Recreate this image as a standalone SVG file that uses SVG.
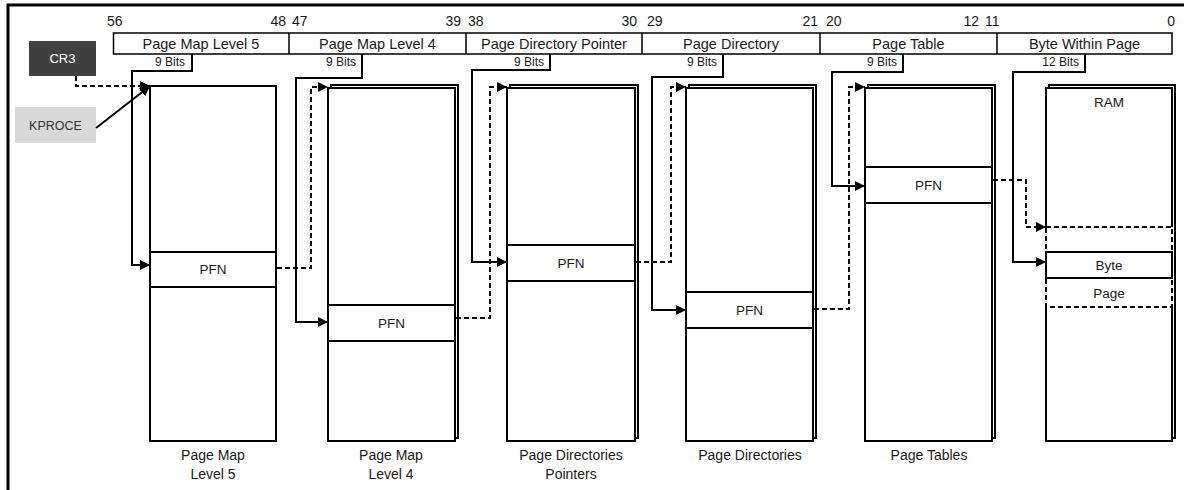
<svg xmlns="http://www.w3.org/2000/svg" width="1184" height="490" viewBox="0 0 1184 490">
<defs>
<style>
text{font-family:"Liberation Sans",Arial,sans-serif;fill:#1a1a1a}
.num{font-size:14px}
.hdr{font-size:14.5px;text-anchor:middle}
.bits{font-size:12px;text-anchor:end}
.pfn{font-size:13.5px;text-anchor:middle}
.lbl{font-size:14px;text-anchor:middle}
.box{fill:#fff;stroke:#000;stroke-width:2}
.row{stroke:#000;stroke-width:2}
.conn{fill:none;stroke:#000;stroke-width:2}
.dash{stroke-dasharray:5,3}
</style>
<marker id="ah" markerUnits="userSpaceOnUse" markerWidth="12" markerHeight="10" refX="10" refY="5" orient="auto">
<path d="M0,0 L10,5 L0,10 Z" fill="#000"/>
</marker>
</defs>
<rect width="1184" height="490" fill="#fff"/>
<path d="M8,490 V5 H1184" fill="none" stroke="#000" stroke-width="3"/>

<g id="address">
<rect x="113.5" y="33" width="1058.5" height="21" fill="#fff" stroke="#000" stroke-width="1.5"/>
<path d="M289,33V54M466,33V54M642,33V54M820,33V54M997,33V54" stroke="#000" stroke-width="1.5"/>
<text class="num" x="107" y="26">56</text>
<text class="num" x="286" y="26" text-anchor="end">48</text>
<text class="num" x="292" y="26">47</text>
<text class="num" x="461" y="26" text-anchor="end">39</text>
<text class="num" x="468" y="26">38</text>
<text class="num" x="637" y="26" text-anchor="end">30</text>
<text class="num" x="647" y="26">29</text>
<text class="num" x="818" y="26" text-anchor="end">21</text>
<text class="num" x="826" y="26">20</text>
<text class="num" x="979" y="26" text-anchor="end">12</text>
<text class="num" x="985" y="26">11</text>
<text class="num" x="1175" y="26" text-anchor="end">0</text>
<text class="hdr" x="201" y="49">Page Map Level 5</text>
<text class="hdr" x="377.5" y="49">Page Map Level 4</text>
<text class="hdr" x="554" y="49">Page Directory Pointer</text>
<text class="hdr" x="731" y="49">Page Directory</text>
<text class="hdr" x="908.5" y="49">Page Table</text>
<text class="hdr" x="1084.5" y="49">Byte Within Page</text>
<text class="bits" x="185" y="66">9 Bits</text>
<text class="bits" x="356" y="66">9 Bits</text>
<text class="bits" x="544" y="66">9 Bits</text>
<text class="bits" x="717" y="66">9 Bits</text>
<text class="bits" x="897" y="66">9 Bits</text>
<text class="bits" x="1079" y="66">12 Bits</text>
</g>

<g id="cr3">
<rect x="29" y="41" width="67" height="35" fill="#404040"/>
<text x="62.5" y="63" font-size="13" text-anchor="middle" style="fill:#fff">CR3</text>
</g>
<g id="kproce">
<rect x="15" y="107" width="81" height="36" fill="#d9d9d9"/>
<text x="55.5" y="130" font-size="12.5" text-anchor="middle" style="fill:#333">KPROCE</text>
</g>

<g id="pml5">
<rect class="box" x="150" y="86" width="126" height="355"/>
<rect class="box" x="150" y="252" width="126" height="35"/>
<text class="pfn" x="213" y="274">PFN</text>
<text class="lbl" x="213" y="460">Page Map</text>
<text class="lbl" x="213" y="479">Level 5</text>
</g>

<g id="pml4">
<rect class="box" x="331" y="85" width="127" height="353"/>
<rect class="box" x="328" y="88" width="127" height="353"/>
<rect class="box" x="328" y="305" width="127" height="36"/>
<text class="pfn" x="391.5" y="328">PFN</text>
<text class="lbl" x="391" y="460">Page Map</text>
<text class="lbl" x="391" y="479">Level 4</text>
</g>

<g id="pdp">
<rect class="box" x="510" y="85" width="128" height="353"/>
<rect class="box" x="507" y="88" width="128" height="353"/>
<rect class="box" x="507" y="245" width="128" height="36"/>
<text class="pfn" x="571" y="268">PFN</text>
<text class="lbl" x="571" y="460">Page Directories</text>
<text class="lbl" x="571" y="479">Pointers</text>
</g>

<g id="pd">
<rect class="box" x="689" y="85" width="127" height="353"/>
<rect class="box" x="686" y="88" width="127" height="353"/>
<rect class="box" x="686" y="292" width="127" height="36"/>
<text class="pfn" x="749.5" y="315">PFN</text>
<text class="lbl" x="750" y="460">Page Directories</text>
</g>

<g id="pt">
<rect class="box" x="868" y="85" width="127" height="353"/>
<rect class="box" x="865" y="88" width="127" height="353"/>
<rect class="box" x="865" y="167" width="127" height="36"/>
<text class="pfn" x="928.5" y="190">PFN</text>
<text class="lbl" x="929" y="460">Page Tables</text>
</g>

<g id="ram">
<rect class="box" x="1049" y="85" width="126" height="353"/>
<rect class="box" x="1046" y="88" width="126" height="353"/>
<rect x="1044.5" y="227" width="128.5" height="80" fill="#fff"/>
<rect x="1046" y="227" width="126" height="25" fill="none" stroke="#000" stroke-width="2" stroke-dasharray="5,3"/>
<rect x="1046" y="278" width="126" height="29" fill="none" stroke="#000" stroke-width="2" stroke-dasharray="5,3"/>
<rect class="box" x="1046" y="252" width="126" height="26"/>
<text class="pfn" x="1109" y="107">RAM</text>
<text class="pfn" x="1109" y="270">Byte</text>
<text class="pfn" x="1109" y="298">Page</text>
</g>

<g id="connectors">
<path class="conn dash" d="M76,76 V86 H150" marker-end="url(#ah)"/>
<path class="conn" d="M96,128 L150,86" marker-end="url(#ah)"/>
<path class="conn" d="M192,54 V71 H132 V265 H150" marker-end="url(#ah)"/>
<path class="conn dash" d="M277,268 H311 V87 H328" marker-end="url(#ah)"/>
<path class="conn" d="M362,54 V78 H296 V322 H328" marker-end="url(#ah)"/>
<path class="conn dash" d="M456,318 H490 V87 H507" marker-end="url(#ah)"/>
<path class="conn" d="M550,54 V70 H472 V262 H507" marker-end="url(#ah)"/>
<path class="conn dash" d="M636,262 H671 V87 H686" marker-end="url(#ah)"/>
<path class="conn" d="M723,54 V77 H652 V310 H686" marker-end="url(#ah)"/>
<path class="conn dash" d="M814,309 H849 V87 H865" marker-end="url(#ah)"/>
<path class="conn" d="M903,54 V72 H832 V186 H865" marker-end="url(#ah)"/>
<path class="conn dash" d="M993,180 H1026 V227 H1046" marker-end="url(#ah)"/>
<path class="conn" d="M1085,54 V72 H1013 V262 H1046" marker-end="url(#ah)"/>
</g>
</svg>
